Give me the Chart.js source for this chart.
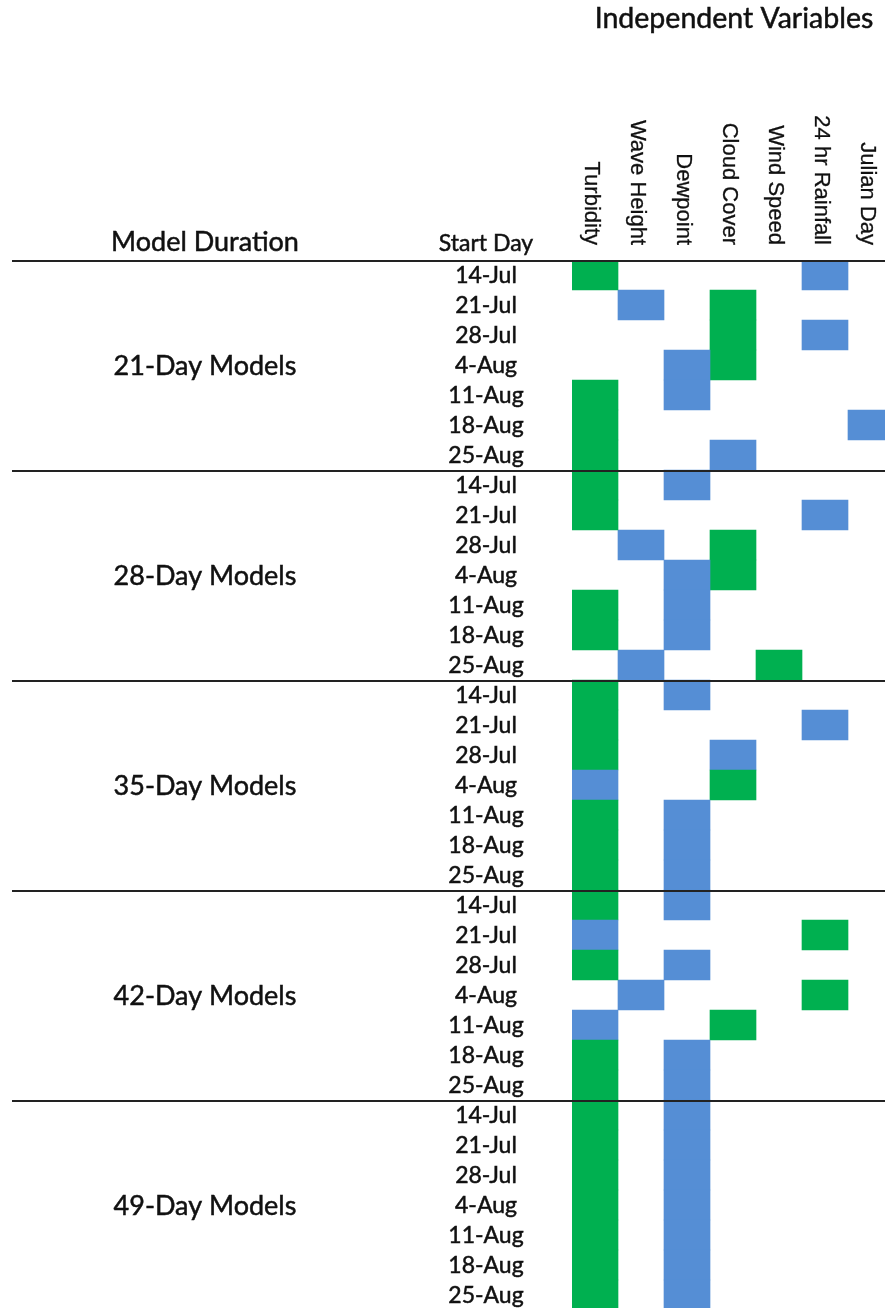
<!DOCTYPE html>
<html>
<head>
<meta charset="utf-8">
<script src="https://cdn.jsdelivr.net/npm/chart.js@4/dist/chart.umd.min.js"></script>
<style>
  html, body { margin: 0; padding: 0; overflow: hidden; background: #fff; }
  #grafico { position: absolute; left: 0; top: 0; }
</style>
</head>
<body>
<canvas id="grafico" width="900" height="1312"></canvas>
<script>
// Datos de la tabla
const duraciones = ["21-Day Models", "28-Day Models", "35-Day Models", "42-Day Models", "49-Day Models"];
const diasInicio = ["14-Jul", "21-Jul", "28-Jul", "4-Aug", "11-Aug", "18-Aug", "25-Aug"];
const variables = ["Turbidity", "Wave Height", "Dewpoint", "Cloud Cover", "Wind Speed", "24 hr Rainfall", "Julian Day"];

// 1 = verde, 2 = azul, 0 = vacio (7 filas por duracion)
const turbidity  = [1,0,0,0,1,1,1, 1,1,0,0,1,1,0, 1,1,1,2,1,1,1, 1,2,1,0,2,1,1, 1,1,1,1,1,1,1];
const waveHeight = [0,2,0,0,0,0,0, 0,0,2,0,0,0,2, 0,0,0,0,0,0,0, 0,0,0,2,0,0,0, 0,0,0,0,0,0,0];
const dewpoint   = [0,0,0,2,2,0,0, 2,0,0,2,2,2,0, 2,0,0,0,2,2,2, 2,0,2,0,0,2,2, 2,2,2,2,2,2,2];
const cloudCover = [0,1,1,1,0,0,2, 0,0,1,1,0,0,0, 0,0,2,1,0,0,0, 0,0,0,0,1,0,0, 0,0,0,0,0,0,0];
const windSpeed  = [0,0,0,0,0,0,0, 0,0,0,0,0,0,1, 0,0,0,0,0,0,0, 0,0,0,0,0,0,0, 0,0,0,0,0,0,0];
const rainfall   = [2,0,2,0,0,0,0, 0,2,0,0,0,0,0, 0,2,0,0,0,0,0, 0,1,0,1,0,0,0, 0,0,0,0,0,0,0];
const julianDay  = [0,0,0,0,0,2,0, 0,0,0,0,0,0,0, 0,0,0,0,0,0,0, 0,0,0,0,0,0,0, 0,0,0,0,0,0,0];

const columnas = [turbidity, waveHeight, dewpoint, cloudCover, windSpeed, rainfall, julianDay];
const colores = { 1: "#00b050", 2: "#558ed5" };

// Filas: una por duracion y dia de inicio
const filas = [];
duraciones.forEach(d => diasInicio.forEach(dia => filas.push(d + " " + dia)));

const datasets = columnas.map((col, i) => ({
    label: variables[i],
    data: col.map(v => v ? [i, i + 1] : null),
    backgroundColor: col.map(v => colores[v] || "transparent"),
    borderWidth: 0
}));

const fuente = "Lato, 'Open Sans', sans-serif";

// texto con un trazo fino para que se vea un poco mas grueso
function texto(ctx, t, px, py) {
    ctx.fillText(t, px, py);
    ctx.strokeText(t, px, py);
}

// Textos y lineas de la tabla
const tablaPlugin = {
    id: "tabla",
    afterDatasetsDraw(chart) {
        const { ctx, chartArea, scales: { x, y } } = chart;
        const alto = (chartArea.bottom - chartArea.top) / filas.length;

        ctx.save();
        ctx.fillStyle = "#111";
        ctx.strokeStyle = "#111";
        ctx.lineWidth = 0.5;

        // encabezados
        ctx.font = "27px " + fuente;
        ctx.textAlign = "center";
        ctx.textBaseline = "alphabetic";
        texto(ctx, "Model Duration", 205, 251);
        ctx.font = "28.5px " + fuente;
        texto(ctx, "Independent Variables", 734, 28);
        ctx.font = "23px " + fuente;
        texto(ctx, "Start Day", 486, 251);

        // variables en vertical
        ctx.font = "22px 'Liberation Sans', Arial, sans-serif";
        ctx.lineWidth = 0.3;
        variables.forEach((v, i) => {
            ctx.save();
            ctx.translate(x.getPixelForValue(i + 0.5) - 4, 245);
            ctx.rotate(Math.PI / 2);
            ctx.textAlign = "right";
            ctx.textBaseline = "middle";
            texto(ctx, v, 0, 0);
            ctx.restore();
        });
        ctx.lineWidth = 0.5;

        // dias de inicio
        ctx.font = "23px " + fuente;
        ctx.textAlign = "center";
        ctx.textBaseline = "middle";
        filas.forEach((f, i) => {
            texto(ctx, diasInicio[i % diasInicio.length], 486, y.getPixelForValue(i) + 1);
        });

        // duraciones
        ctx.font = "27px " + fuente;
        duraciones.forEach((d, g) => {
            texto(ctx, d, 205, y.getPixelForValue(g * diasInicio.length + 3) + 1);
        });

        // lineas de grupo
        ctx.strokeStyle = "#222";
        ctx.lineWidth = 2;
        duraciones.forEach((d, g) => {
            const yy = Math.round(y.getPixelForValue(g * diasInicio.length) - alto / 2) + 1;
            ctx.beginPath();
            ctx.moveTo(12, yy);
            ctx.lineTo(chart.width, yy);
            ctx.stroke();
        });
        ctx.restore();
    }
};

new Chart(document.getElementById("grafico"), {
    type: "bar",
    data: { labels: filas, datasets: datasets },
    options: {
        indexAxis: "y",
        responsive: false,
        animation: false,
        devicePixelRatio: 1,
        layout: { padding: { left: 572, right: 6, top: 260, bottom: 2 } },
        datasets: { bar: { barPercentage: 1, categoryPercentage: 1, grouped: false } },
        scales: {
            x: { type: "linear", min: 0, max: 7, display: false },
            y: { display: false }
        },
        plugins: { legend: { display: false }, tooltip: { enabled: false } }
    },
    plugins: [tablaPlugin]
});
</script>
</body>
</html>
